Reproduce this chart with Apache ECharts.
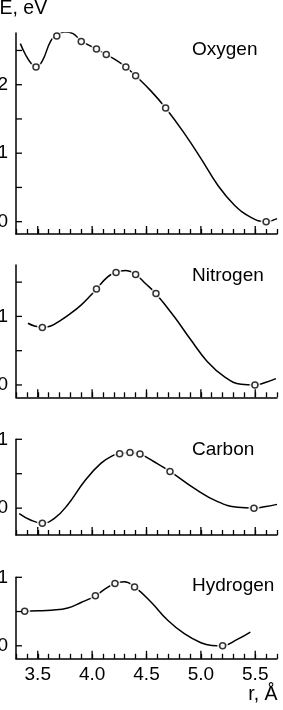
<!DOCTYPE html>
<html><head><meta charset="utf-8">
<script src="https://cdn.jsdelivr.net/npm/echarts@6/dist/echarts.min.js"></script>
<style>html,body{margin:0;padding:0;background:#fff}#c{width:283px;height:710px}</style>
</head><body><div id="c"></div>
<script>
// ---------- data ----------
const xMajorTicks = [3.5, 4.0, 4.5, 5.0, 5.5];
const xTickLabels = ['3.5', '4.0', '4.5', '5.0', '5.5'];
const panelNames = ['Oxygen', 'Nitrogen', 'Carbon', 'Hydrogen'];

const oxygenPoints = [[3.484,2.26],[3.675,2.71],[3.90,2.63],[4.04,2.52],[4.13,2.44],[4.31,2.26],[4.40,2.13],[4.676,1.66],[5.60,0.0]];
const oxygenCurve = [[3.34,2.60],[3.39,2.43],[3.44,2.31],[3.484,2.26],[3.54,2.34],[3.62,2.64],[3.675,2.72],[3.745,2.77],[3.82,2.75],[3.90,2.64],[4.04,2.52],[4.13,2.44],[4.22,2.36],[4.31,2.26],[4.40,2.13],[4.54,1.91],[4.676,1.66],[4.848,1.29],[5.0,0.925],[5.154,0.536],[5.307,0.244],[5.46,0.064],[5.60,0.0],[5.70,0.045]];
const oxygenYTicks = [0, 0.5, 1, 1.5, 2, 2.5];
const oxygenYLabels = [0, 1, 2];

const nitrogenPoints = [[3.542,0.84],[4.04,1.40],[4.22,1.64],[4.40,1.61],[4.587,1.335],[5.497,0.0]];
const nitrogenCurve = [[3.41,0.90],[3.47,0.86],[3.542,0.84],[3.62,0.86],[3.714,0.946],[3.80,1.04],[3.898,1.165],[3.97,1.28],[4.04,1.40],[4.143,1.577],[4.22,1.645],[4.31,1.668],[4.40,1.61],[4.49,1.48],[4.587,1.33],[4.756,0.994],[4.909,0.655],[5.06,0.34],[5.215,0.12],[5.37,0.01],[5.497,0.0],[5.60,0.04],[5.69,0.092]];
const nitrogenYTicks = [0, 0.5, 1, 1.5];
const nitrogenYLabels = [0, 1];

const carbonPoints = [[3.542,-0.218],[4.253,0.79],[4.348,0.81],[4.44,0.786],[4.716,0.534],[5.488,0.0]];
const carbonCurve = [[3.33,-0.078],[3.438,-0.175],[3.542,-0.218],[3.653,-0.15],[3.776,0.05],[3.93,0.39],[4.08,0.65],[4.2,0.77],[4.253,0.79],[4.348,0.81],[4.44,0.786],[4.57,0.674],[4.716,0.534],[4.94,0.287],[5.154,0.095],[5.338,0.012],[5.488,0.0],[5.60,0.025],[5.70,0.055]];
const carbonYTicks = [0, 0.5, 1];
const carbonYLabels = [0, 1];

const hydrogenPoints = [[3.38,0.505],[4.03,0.73],[4.21,0.91],[4.39,0.86],[5.20,0.0]];
const hydrogenCurve = [[3.38,0.505],[3.50,0.51],[3.622,0.52],[3.776,0.553],[3.898,0.632],[4.03,0.73],[4.12,0.83],[4.21,0.91],[4.296,0.935],[4.39,0.86],[4.541,0.64],[4.695,0.372],[4.848,0.176],[5.0,0.044],[5.10,0.005],[5.20,0.0],[5.335,0.093],[5.455,0.20]];
const hydrogenYTicks = [0, 0.5, 1];
const hydrogenYLabels = [0, 1];

const yAxisTitle = 'E, eV';
const xAxisTitle = 'r, Å';

// ---------- layout ----------
const FONT = '"Liberation Sans", Arial, Helvetica, sans-serif';
const X_MIN = 3.3, X_MAX = 5.7;
const panels = [
  {pts: oxygenPoints,   curve: oxygenCurve,   yTicks: oxygenYTicks,   yLabels: oxygenYLabels,   yMin: -0.18, yMax: 2.755, top: 33,    height: 201,  nameY: 49.7},
  {pts: nitrogenPoints, curve: nitrogenCurve, yTicks: nitrogenYTicks, yLabels: nitrogenYLabels, yMin: -0.18, yMax: 1.75,  top: 265,   height: 132.3, nameY: 275.5},
  {pts: carbonPoints,   curve: carbonCurve,   yTicks: carbonYTicks,   yLabels: carbonYLabels,   yMin: -0.39, yMax: 1.0,   top: 439.3, height: 95.7, nameY: 449.7},
  {pts: hydrogenPoints, curve: hydrogenCurve, yTicks: hydrogenYTicks, yLabels: hydrogenYLabels, yMin: -0.19, yMax: 1.0,   top: 577.3, height: 81.5, nameY: 585.8}
];

const grids = [], xAxes = [], yAxes = [], series = [], graphics = [];
const axisLineStyle = {color: '#000', width: 1.5};
const TICK_W = 1.3;

panels.forEach((p, i) => {
  grids.push({left: 16, width: 261, top: p.top, height: p.height, containLabel: false, outerBoundsMode: 'none'});
  const isBottom = i === panels.length - 1;
  xAxes.push({
    gridIndex: i, type: 'value', min: X_MIN, max: X_MAX, interval: 0.1,
    axisLine: {show: true, onZero: false, lineStyle: axisLineStyle},
    axisTick: {show: true, inside: true, length: 5, lineStyle: {color: '#000', width: TICK_W}},
    splitLine: {show: false},
    axisLabel: isBottom ? {
      show: true, margin: 6, color: '#000', fontSize: 19, fontFamily: FONT,
      showMinLabel: true, showMaxLabel: true,
      formatter: v => {
        const idx = xMajorTicks.findIndex(m => Math.abs(m - v) < 1e-6);
        return idx >= 0 ? xTickLabels[idx] : '';
      }
    } : {show: false}
  });
  yAxes.push({
    gridIndex: i, type: 'value', min: p.yMin, max: p.yMax,
    axisLine: {show: true, onZero: false, lineStyle: axisLineStyle},
    axisTick: {show: false}, axisLabel: {show: false}, splitLine: {show: false}
  });
  series.push({
    type: 'line', xAxisIndex: i, yAxisIndex: i, data: p.curve, smooth: 0.45,
    symbol: 'none', showSymbol: false, silent: true, z: 2,
    lineStyle: {color: '#000', width: 1.5}
  });
  series.push({
    type: 'scatter', xAxisIndex: i, yAxisIndex: i, data: p.pts, symbol: 'circle',
    symbolSize: 11, silent: true, z: 3, itemStyle: {color: '#fff', borderWidth: 0}
  });
  series.push({
    type: 'scatter', xAxisIndex: i, yAxisIndex: i, data: p.pts, symbol: 'circle',
    symbolSize: 6, silent: true, z: 4,
    itemStyle: {color: '#fff', borderColor: '#000', borderWidth: 1.5}
  });
  // ticks (y ticks, integer labels, major x ticks) placed through the axes' scales
  const tickData = [];
  p.yTicks.forEach(v => tickData.push([X_MIN, v, p.yLabels.includes(v) ? 1 : 0]));
  xMajorTicks.forEach(v => tickData.push([v, p.yMin, 2]));
  series.push({
    type: 'custom', xAxisIndex: i, yAxisIndex: i, data: tickData, silent: true, z: 5, clip: false,
    renderItem: (params, api) => {
      const k = api.value(2);
      const c = api.coord([api.value(0), api.value(1)]);
      if (k === 2) {
        return {type: 'line', shape: {x1: c[0], y1: c[1], x2: c[0], y2: c[1] - 8},
                style: {stroke: '#000', lineWidth: TICK_W}};
      }
      const children = [{type: 'line', shape: {x1: c[0], y1: c[1], x2: c[0] + 6, y2: c[1]},
                         style: {stroke: '#000', lineWidth: TICK_W}}];
      if (k === 1) {
        children.push({type: 'text', x: c[0] - 8, y: c[1],
          style: {text: String(api.value(1)), font: '19px ' + FONT, fill: '#000',
                  align: 'right', verticalAlign: 'middle'}});
      }
      return {type: 'group', children};
    }
  });
  graphics.push({type: 'text', x: 192, y: p.nameY, silent: true,
    style: {text: panelNames[i], font: '19px ' + FONT, fill: '#000', align: 'left', verticalAlign: 'middle'}});
});

graphics.push({type: 'text', x: -0.5, y: 8.3, silent: true,
  style: {text: yAxisTitle, font: '19.5px ' + FONT, fill: '#000', align: 'left', verticalAlign: 'middle'}});
graphics.push({type: 'text', x: 277.5, y: 695, silent: true,
  style: {text: xAxisTitle, font: '19.5px ' + FONT, fill: '#000', align: 'right', verticalAlign: 'middle'}});

const chart = echarts.init(document.getElementById('c'), null, {renderer: 'canvas'});
chart.setOption({
  backgroundColor: '#fff',
  animation: false,
  grid: grids, xAxis: xAxes, yAxis: yAxes, series: series, graphic: graphics
});
</script>
</body></html>
